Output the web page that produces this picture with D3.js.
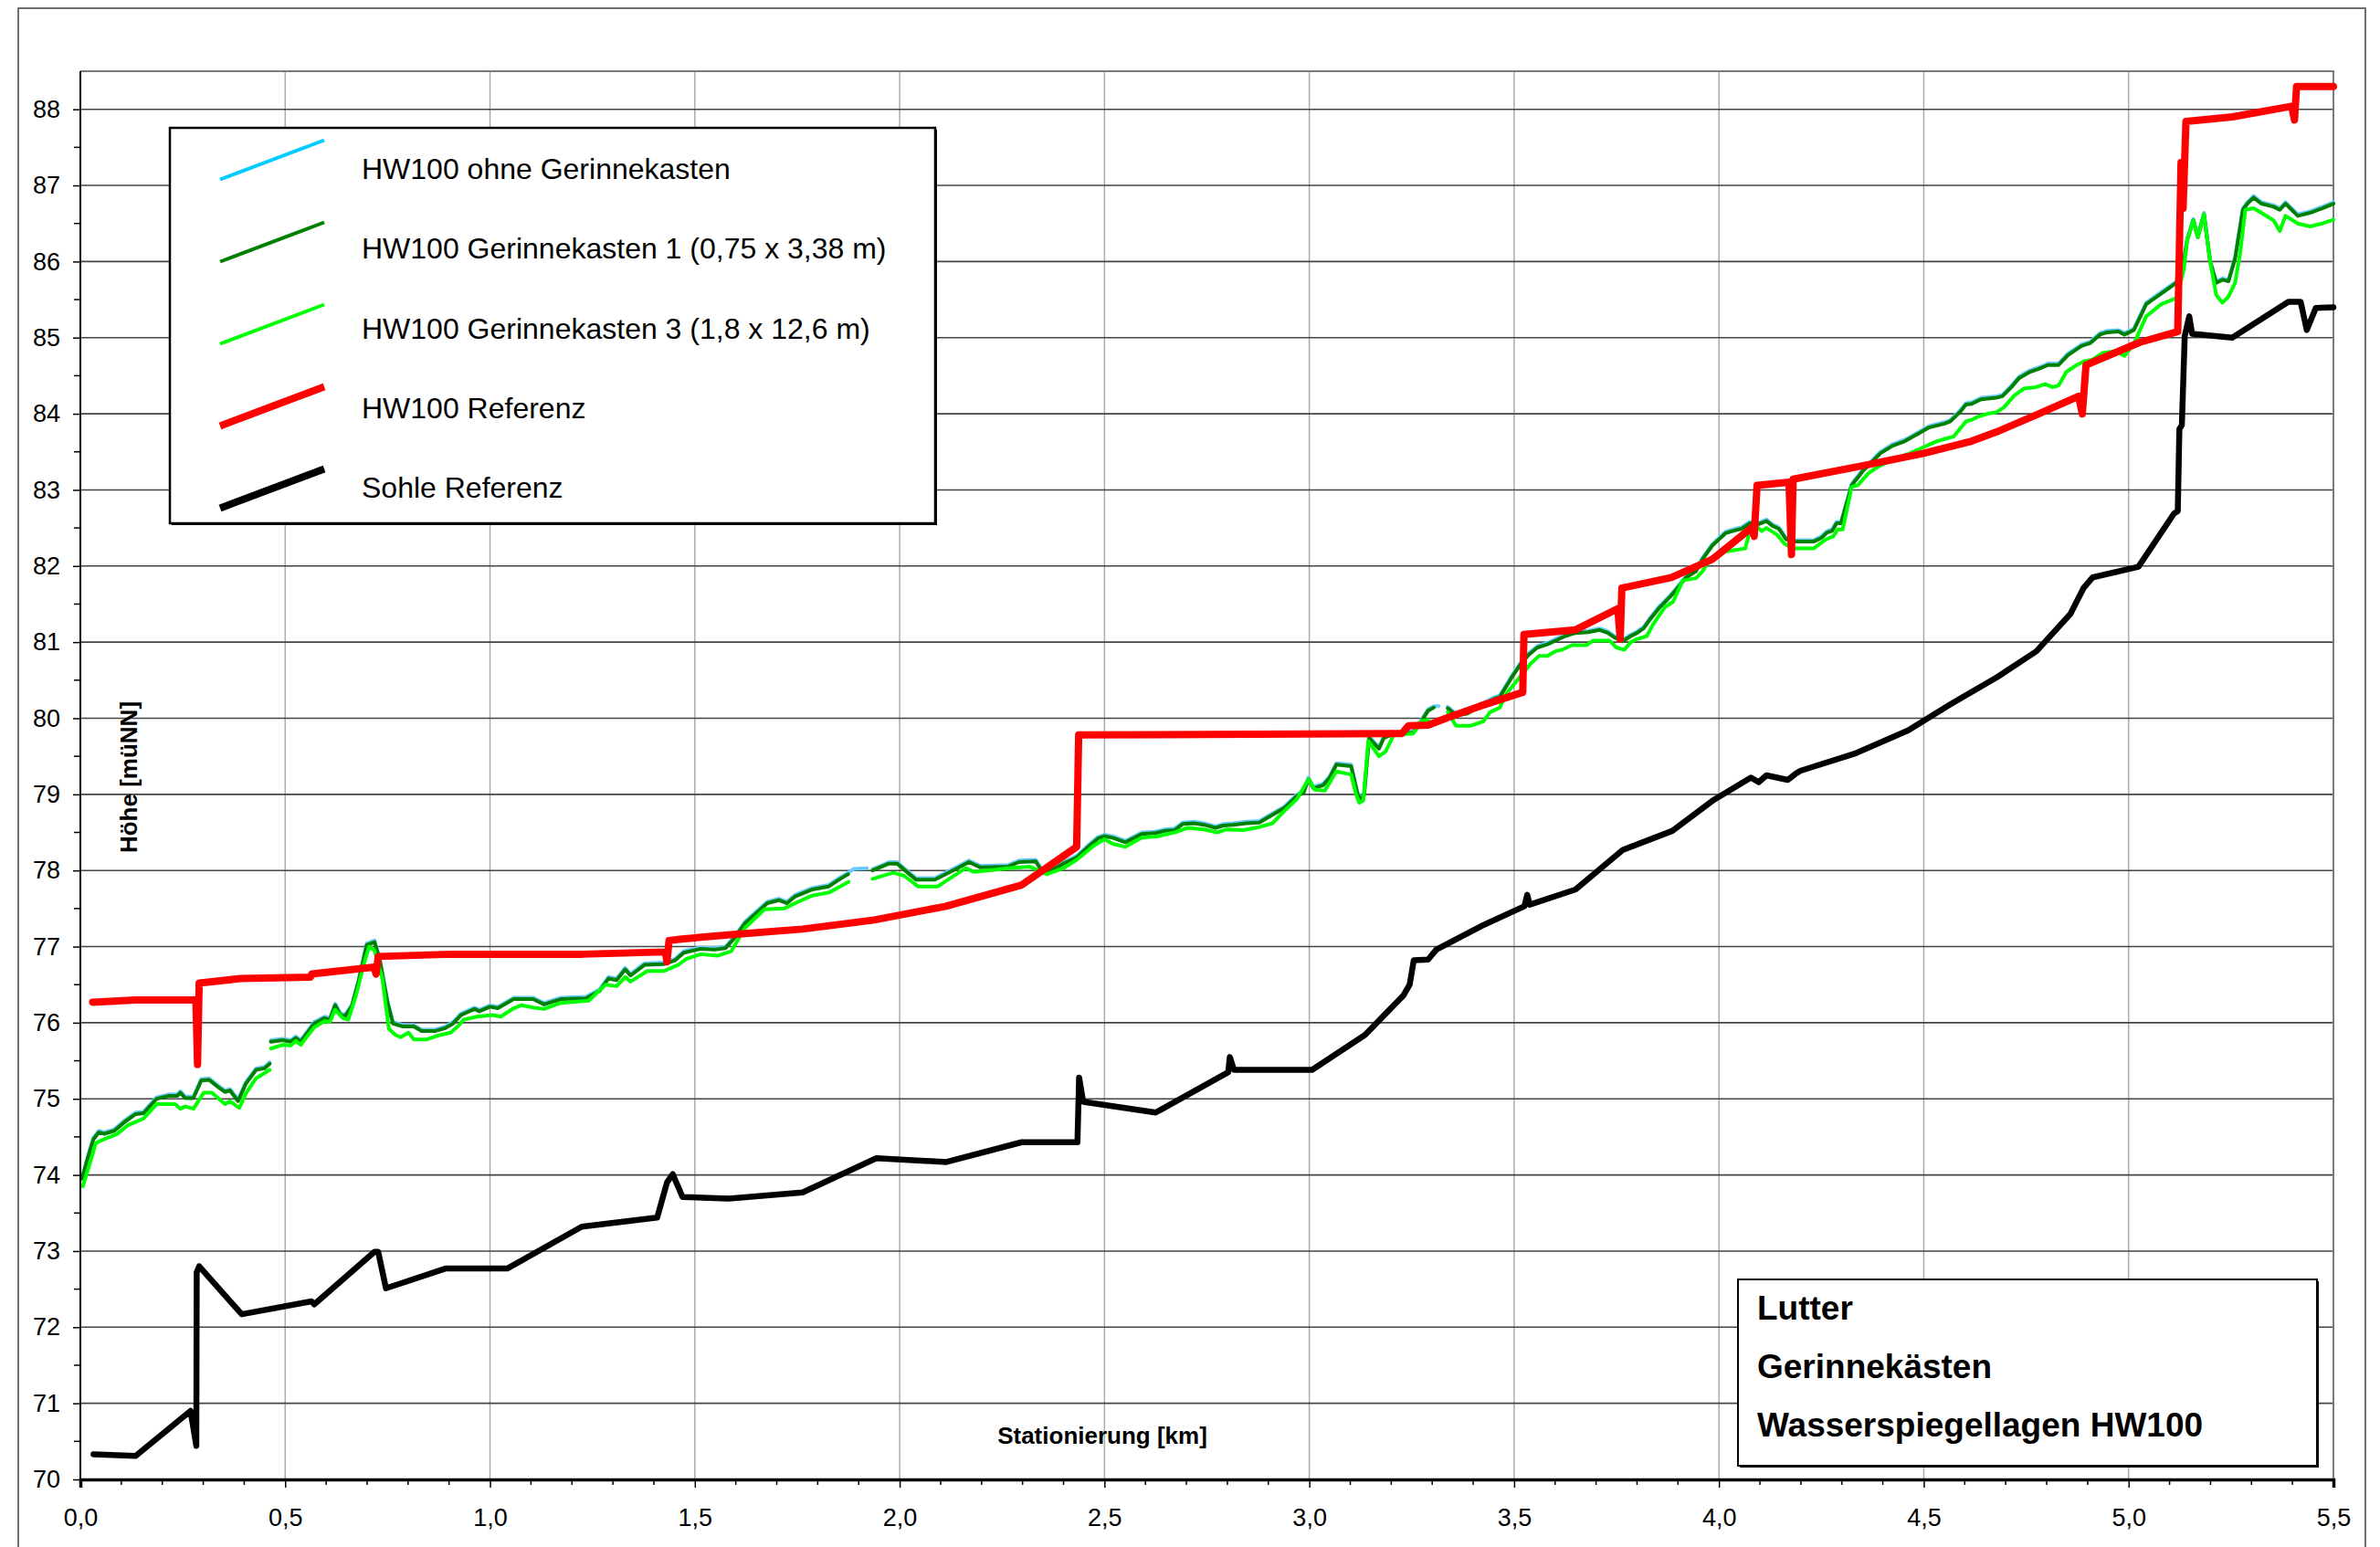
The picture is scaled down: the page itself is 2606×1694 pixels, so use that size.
<!DOCTYPE html>
<html>
<head>
<meta charset="utf-8">
<script src="https://cdn.jsdelivr.net/npm/d3@7"></script>
<style>
html,body{margin:0;padding:0;background:#fff;}
svg{display:block;}
text{font-family:"Liberation Sans",Arial,sans-serif;fill:#000;}
</style>
</head>
<body>
<script>
// ---------- data (station km, water level / bed level m ü. NN) ----------
const xTicks = [0,0.5,1,1.5,2,2.5,3,3.5,4,4.5,5,5.5];
const yTicks = [70,71,72,73,74,75,76,77,78,79,80,81,82,83,84,85,86,87,88];

const seriesNames = ["HW100 ohne Gerinnekasten","HW100 Gerinnekasten 1 (0,75 x 3,38 m)","HW100 Gerinnekasten 3 (1,8 x 12,6 m)","HW100 Referenz","Sohle Referenz"];

const hw100Ohne = [[0.004,73.97],[0.019,74.26],[0.032,74.49],[0.045,74.58],[0.058,74.56],[0.083,74.6],[0.109,74.72],[0.135,74.82],[0.154,74.83],[0.186,75.02],[0.218,75.06],[0.237,75.06],[0.244,75.1],[0.256,75.03],[0.276,75.03],[0.295,75.26],[0.314,75.27],[0.34,75.16],[0.353,75.11],[0.365,75.13],[0.385,74.99],[0.404,75.22],[0.429,75.4],[0.449,75.42],[0.462,75.48],null,
[0.465,75.77],[0.494,75.79],[0.513,75.77],[0.526,75.82],[0.538,75.77],[0.571,76.01],[0.596,76.08],[0.609,76.06],[0.622,76.25],[0.635,76.12],[0.647,76.11],[0.663,76.24],[0.679,76.56],[0.699,77.04],[0.718,77.08],[0.731,76.84],[0.75,76.28],[0.763,76.01],[0.788,75.97],[0.814,75.97],[0.833,75.91],[0.865,75.91],[0.891,75.95],[0.91,76.01],[0.929,76.12],[0.962,76.2],[0.974,76.17],[1.0,76.23],[1.019,76.21],[1.058,76.33],[1.105,76.33],[1.132,76.26],[1.173,76.33],[1.234,76.34],[1.268,76.44],[1.289,76.6],[1.309,76.58],[1.33,76.72],[1.343,76.64],[1.377,76.78],[1.425,76.79],[1.452,76.84],[1.473,76.94],[1.514,76.99],[1.548,76.98],[1.575,77.0],[1.595,77.12],[1.623,77.33],[1.677,77.59],[1.705,77.63],[1.725,77.59],[1.745,77.68],[1.786,77.77],[1.827,77.81],[1.855,77.91],[1.874,77.97],[1.888,78.02],[1.92,78.03],null,
[1.934,78.02],[1.974,78.11],[1.994,78.11],[2.011,78.03],[2.04,77.9],[2.086,77.9],[2.141,78.05],[2.169,78.13],[2.197,78.06],[2.264,78.07],[2.291,78.13],[2.332,78.14],[2.345,78.03],[2.37,78.02],[2.4,78.11],[2.432,78.19],[2.464,78.35],[2.484,78.44],[2.5,78.47],[2.52,78.45],[2.551,78.39],[2.591,78.5],[2.623,78.51],[2.647,78.54],[2.671,78.55],[2.691,78.63],[2.719,78.64],[2.743,78.62],[2.771,78.58],[2.79,78.61],[2.814,78.62],[2.846,78.64],[2.878,78.65],[2.91,78.75],[2.939,78.84],[2.97,79.0],[2.986,79.04],[2.998,79.22],[3.01,79.1],[3.034,79.14],[3.05,79.24],[3.066,79.41],[3.102,79.39],[3.118,79.02],[3.128,78.94],[3.134,79.02],[3.146,79.76],[3.17,79.62],[3.182,79.76],[3.198,79.8],[3.226,79.82],[3.254,79.83],[3.274,79.98],[3.29,80.12],[3.304,80.16],[3.316,80.16],null,
[3.338,80.15],[3.358,80.06],[3.385,80.08],[3.417,80.18],[3.449,80.27],[3.465,80.3],[3.481,80.44],[3.497,80.58],[3.517,80.74],[3.537,80.86],[3.557,80.95],[3.581,80.99],[3.601,81.04],[3.625,81.1],[3.649,81.14],[3.681,81.15],[3.709,81.18],[3.729,81.14],[3.745,81.08],[3.765,81.03],[3.785,81.1],[3.8,81.14],[3.816,81.2],[3.832,81.32],[3.856,81.48],[3.88,81.61],[3.896,81.71],[3.92,81.87],[3.944,81.95],[3.96,82.11],[3.984,82.29],[4.0,82.37],[4.016,82.45],[4.04,82.49],[4.056,82.51],[4.075,82.58],[4.097,82.57],[4.116,82.61],[4.13,82.55],[4.146,82.51],[4.164,82.37],[4.186,82.34],[4.231,82.34],[4.25,82.39],[4.264,82.46],[4.276,82.48],[4.287,82.58],[4.298,82.58],[4.324,83.08],[4.35,83.26],[4.365,83.34],[4.394,83.5],[4.424,83.6],[4.454,83.66],[4.484,83.75],[4.513,83.84],[4.551,83.89],[4.565,83.92],[4.588,84.04],[4.603,84.14],[4.617,84.15],[4.64,84.21],[4.677,84.23],[4.692,84.25],[4.714,84.37],[4.733,84.49],[4.759,84.57],[4.781,84.61],[4.803,84.66],[4.829,84.66],[4.852,84.79],[4.885,84.91],[4.907,84.95],[4.93,85.06],[4.948,85.09],[4.975,85.1],[4.99,85.06],[5.013,85.12],[5.043,85.46],[5.08,85.6],[5.117,85.74],[5.135,86.02],[5.143,86.3],[5.158,86.56],[5.169,86.34],[5.184,86.64],[5.199,86.02],[5.214,85.74],[5.229,85.78],[5.244,85.76],[5.26,86.06],[5.279,86.7],[5.29,86.78],[5.305,86.86],[5.324,86.78],[5.354,86.74],[5.369,86.7],[5.383,86.78],[5.413,86.62],[5.443,86.66],[5.473,86.72],[5.5,86.78]];

const hw100GK1 = [[0.004,73.95],[0.019,74.24],[0.032,74.47],[0.045,74.56],[0.058,74.54],[0.083,74.58],[0.109,74.7],[0.135,74.8],[0.154,74.81],[0.186,75.0],[0.218,75.04],[0.237,75.04],[0.244,75.08],[0.256,75.01],[0.276,75.01],[0.295,75.24],[0.314,75.25],[0.34,75.14],[0.353,75.09],[0.365,75.11],[0.385,74.97],[0.404,75.2],[0.429,75.38],[0.449,75.4],[0.462,75.46],null,
[0.465,75.75],[0.494,75.77],[0.513,75.75],[0.526,75.8],[0.538,75.75],[0.571,75.99],[0.596,76.06],[0.609,76.04],[0.622,76.23],[0.635,76.1],[0.647,76.09],[0.663,76.22],[0.679,76.54],[0.699,77.02],[0.718,77.06],[0.731,76.82],[0.75,76.26],[0.763,75.99],[0.788,75.95],[0.814,75.95],[0.833,75.89],[0.865,75.89],[0.891,75.93],[0.91,75.99],[0.929,76.1],[0.962,76.18],[0.974,76.15],[1.0,76.21],[1.019,76.19],[1.058,76.31],[1.105,76.31],[1.132,76.24],[1.173,76.31],[1.234,76.32],[1.268,76.42],[1.289,76.58],[1.309,76.56],[1.33,76.7],[1.343,76.62],[1.377,76.76],[1.425,76.77],[1.452,76.82],[1.473,76.92],[1.514,76.97],[1.548,76.96],[1.575,76.98],[1.595,77.1],[1.623,77.31],[1.677,77.57],[1.705,77.61],[1.725,77.57],[1.745,77.66],[1.786,77.75],[1.827,77.79],[1.855,77.89],[1.874,77.95],null,
[1.934,78.0],[1.974,78.09],[1.994,78.09],[2.011,78.01],[2.04,77.88],[2.086,77.88],[2.141,78.03],[2.169,78.11],[2.197,78.04],[2.264,78.05],[2.291,78.11],[2.332,78.12],[2.345,78.01],[2.37,78.0],[2.4,78.09],[2.432,78.17],[2.464,78.33],[2.484,78.42],[2.5,78.45],[2.52,78.43],[2.551,78.37],[2.591,78.48],[2.623,78.49],[2.647,78.52],[2.671,78.53],[2.691,78.61],[2.719,78.62],[2.743,78.6],[2.771,78.56],[2.79,78.59],[2.814,78.6],[2.846,78.62],[2.878,78.63],[2.91,78.73],[2.939,78.82],[2.97,78.98],[2.986,79.02],[2.998,79.2],[3.01,79.08],[3.034,79.12],[3.05,79.22],[3.066,79.39],[3.102,79.37],[3.118,79.0],[3.128,78.92],[3.134,79.0],[3.146,79.74],[3.17,79.6],[3.182,79.74],[3.198,79.78],[3.226,79.8],[3.254,79.81],[3.274,79.96],[3.29,80.1],[3.304,80.14],null,
[3.338,80.13],[3.358,80.04],[3.385,80.06],[3.417,80.16],[3.449,80.25],[3.465,80.28],[3.481,80.42],[3.497,80.56],[3.517,80.72],[3.537,80.84],[3.557,80.93],[3.581,80.97],[3.601,81.02],[3.625,81.08],[3.649,81.12],[3.681,81.13],[3.709,81.16],[3.729,81.12],[3.745,81.06],[3.765,81.01],[3.785,81.08],[3.8,81.12],[3.816,81.18],[3.832,81.3],[3.856,81.46],[3.88,81.59],[3.896,81.69],[3.92,81.85],[3.944,81.93],[3.96,82.09],[3.984,82.27],[4.0,82.35],[4.016,82.43],[4.04,82.47],[4.056,82.49],[4.075,82.56],[4.097,82.55],[4.116,82.59],[4.13,82.53],[4.146,82.49],[4.164,82.35],[4.186,82.32],[4.231,82.32],[4.25,82.37],[4.264,82.44],[4.276,82.46],[4.287,82.56],[4.298,82.56],[4.324,83.06],[4.35,83.24],[4.365,83.32],[4.394,83.48],[4.424,83.58],[4.454,83.64],[4.484,83.73],[4.513,83.82],[4.551,83.87],[4.565,83.9],[4.588,84.02],[4.603,84.12],[4.617,84.13],[4.64,84.19],[4.677,84.21],[4.692,84.23],[4.714,84.35],[4.733,84.47],[4.759,84.55],[4.781,84.59],[4.803,84.64],[4.829,84.64],[4.852,84.77],[4.885,84.89],[4.907,84.93],[4.93,85.04],[4.948,85.07],[4.975,85.08],[4.99,85.04],[5.013,85.1],[5.043,85.44],[5.08,85.58],[5.117,85.72],[5.135,86.0],[5.143,86.28],[5.158,86.54],[5.169,86.32],[5.184,86.62],[5.199,86.0],[5.214,85.72],[5.229,85.76],[5.244,85.74],[5.26,86.04],[5.279,86.68],[5.29,86.76],[5.305,86.84],[5.324,86.76],[5.354,86.72],[5.369,86.68],[5.383,86.76],[5.413,86.6],[5.443,86.64],[5.473,86.7],[5.5,86.76]];

const hw100GK3 = [[0.006,73.85],[0.019,74.08],[0.038,74.42],[0.058,74.47],[0.077,74.51],[0.09,74.54],[0.115,74.65],[0.154,74.74],[0.186,74.93],[0.231,74.93],[0.244,74.87],[0.256,74.9],[0.276,74.87],[0.301,75.08],[0.321,75.08],[0.353,74.93],[0.365,74.97],[0.388,74.88],[0.404,75.07],[0.429,75.27],[0.462,75.38],null,
[0.465,75.66],[0.494,75.71],[0.513,75.7],[0.526,75.76],[0.538,75.71],[0.571,75.94],[0.596,76.02],[0.609,76.01],[0.622,76.17],[0.641,76.06],[0.654,76.04],[0.673,76.36],[0.692,76.77],[0.705,77.0],[0.718,76.95],[0.737,76.59],[0.753,75.92],[0.769,75.84],[0.782,75.81],[0.801,75.87],[0.814,75.78],[0.846,75.78],[0.872,75.83],[0.904,75.87],[0.923,75.96],[0.936,76.04],[0.968,76.08],[1.006,76.1],[1.026,76.08],[1.058,76.19],[1.077,76.23],[1.105,76.2],[1.132,76.18],[1.173,76.26],[1.241,76.29],[1.282,76.5],[1.309,76.48],[1.33,76.6],[1.343,76.54],[1.384,76.68],[1.425,76.68],[1.459,76.76],[1.48,76.84],[1.514,76.9],[1.555,76.88],[1.589,76.94],[1.623,77.25],[1.67,77.49],[1.718,77.5],[1.745,77.57],[1.786,77.67],[1.827,77.71],[1.855,77.79],[1.875,77.85],null,
[1.934,77.89],[1.984,77.97],[2.011,77.93],[2.045,77.79],[2.093,77.79],[2.161,78.03],[2.182,77.98],[2.236,78.01],[2.264,78.03],[2.318,78.05],[2.359,77.95],[2.4,78.03],[2.432,78.14],[2.468,78.3],[2.484,78.36],[2.5,78.41],[2.52,78.35],[2.551,78.31],[2.591,78.43],[2.631,78.45],[2.671,78.5],[2.703,78.56],[2.743,78.54],[2.775,78.5],[2.799,78.54],[2.838,78.53],[2.878,78.57],[2.91,78.62],[2.939,78.78],[2.97,78.94],[2.998,79.2],[3.014,79.06],[3.038,79.05],[3.066,79.3],[3.102,79.26],[3.114,79.0],[3.122,78.89],[3.132,78.92],[3.144,79.7],[3.17,79.5],[3.186,79.56],[3.206,79.78],[3.254,79.8],[3.274,79.96],[3.29,79.98],null,
[3.338,80.08],[3.358,79.9],[3.393,79.9],[3.425,79.96],[3.441,80.08],[3.465,80.14],[3.481,80.32],[3.517,80.56],[3.541,80.72],[3.561,80.82],[3.581,80.82],[3.601,80.88],[3.617,80.9],[3.641,80.96],[3.677,80.96],[3.693,81.02],[3.733,81.02],[3.749,80.93],[3.769,80.9],[3.785,81.0],[3.8,81.04],[3.824,81.08],[3.84,81.24],[3.868,81.46],[3.888,81.53],[3.912,81.81],[3.944,81.84],[3.96,81.93],[3.976,82.07],[4.0,82.13],[4.016,82.19],[4.04,82.21],[4.064,82.23],[4.075,82.45],[4.09,82.53],[4.104,82.46],[4.116,82.5],[4.142,82.41],[4.16,82.29],[4.186,82.23],[4.231,82.23],[4.246,82.29],[4.261,82.35],[4.279,82.39],[4.29,82.48],[4.302,82.48],[4.324,83.04],[4.339,83.06],[4.365,83.22],[4.387,83.3],[4.409,83.36],[4.439,83.43],[4.461,83.47],[4.499,83.56],[4.528,83.63],[4.558,83.68],[4.573,83.7],[4.588,83.8],[4.603,83.9],[4.617,83.92],[4.632,83.96],[4.655,84.0],[4.677,84.02],[4.695,84.08],[4.721,84.24],[4.744,84.33],[4.774,84.35],[4.796,84.39],[4.814,84.35],[4.829,84.37],[4.848,84.55],[4.87,84.63],[4.892,84.69],[4.911,84.71],[4.937,84.8],[4.952,84.81],[4.969,84.82],[4.99,84.76],[5.013,84.92],[5.043,85.28],[5.08,85.44],[5.117,85.52],[5.135,85.9],[5.143,86.28],[5.158,86.54],[5.169,86.32],[5.184,86.62],[5.199,86.0],[5.214,85.56],[5.229,85.46],[5.244,85.54],[5.26,85.72],[5.272,86.1],[5.285,86.68],[5.305,86.7],[5.324,86.64],[5.354,86.54],[5.369,86.4],[5.383,86.6],[5.413,86.5],[5.443,86.46],[5.473,86.5],[5.5,86.55]];

const hw100Referenz = [[0.03,76.27],[0.135,76.3],[0.282,76.3],[0.286,75.45],[0.29,76.52],[0.391,76.58],[0.562,76.6],[0.565,76.64],[0.717,76.73],[0.722,76.64],[0.727,76.87],[0.904,76.9],[1.224,76.9],[1.428,76.93],[1.432,76.8],[1.437,77.08],[1.468,77.1],[1.595,77.16],[1.763,77.23],[1.938,77.35],[2.113,77.53],[2.298,77.81],[2.432,78.31],[2.437,79.78],[3.226,79.8],[3.242,79.9],[3.29,79.91],[3.338,80.01],[3.417,80.16],[3.521,80.34],[3.524,81.1],[3.649,81.16],[3.753,81.44],[3.759,81.04],[3.763,81.71],[3.884,81.85],[3.984,82.09],[4.079,82.5],[4.086,82.39],[4.093,83.06],[4.171,83.1],[4.177,82.15],[4.181,83.14],[4.335,83.3],[4.5,83.48],[4.617,83.64],[4.677,83.76],[4.781,84.0],[4.878,84.23],[4.887,84.0],[4.896,84.64],[5.028,84.94],[5.12,85.08],[5.128,87.3],[5.133,86.7],[5.14,87.84],[5.253,87.9],[5.398,88.04],[5.405,87.86],[5.41,88.3],[5.5,88.3]];

const sohleReferenz = [[0.032,70.33],[0.135,70.31],[0.269,70.9],[0.283,70.44],[0.284,72.72],[0.29,72.8],[0.394,72.17],[0.564,72.34],[0.571,72.3],[0.718,72.99],[0.727,72.99],[0.746,72.51],[0.891,72.77],[1.042,72.77],[1.224,73.32],[1.408,73.44],[1.432,73.9],[1.446,74.01],[1.47,73.71],[1.583,73.69],[1.763,73.77],[1.943,74.22],[2.114,74.17],[2.298,74.43],[2.434,74.43],[2.438,75.28],[2.448,74.96],[2.625,74.82],[2.802,75.35],[2.806,75.55],[2.816,75.38],[3.007,75.38],[3.136,75.84],[3.23,76.36],[3.245,76.5],[3.255,76.82],[3.29,76.83],[3.31,76.96],[3.42,77.27],[3.525,77.53],[3.532,77.68],[3.538,77.55],[3.65,77.75],[3.765,78.27],[3.886,78.52],[3.988,78.93],[4.078,79.22],[4.097,79.16],[4.116,79.25],[4.168,79.19],[4.187,79.27],[4.199,79.31],[4.334,79.54],[4.462,79.84],[4.564,80.18],[4.679,80.54],[4.775,80.88],[4.858,81.37],[4.89,81.71],[4.912,81.85],[5.024,81.99],[5.111,82.69],[5.12,82.72],[5.124,83.8],[5.13,83.85],[5.137,85.02],[5.148,85.28],[5.155,85.05],[5.253,85.0],[5.39,85.47],[5.42,85.47],[5.435,85.1],[5.457,85.39],[5.5,85.4]];

const infoLines = ["Lutter","Gerinnekästen","Wasserspiegellagen HW100"];

// ---------- drawing ----------
const W = 2606, H = 1694;
const svg = d3.select("body").append("svg").attr("width", W).attr("height", H);
svg.append("rect").attr("width", W).attr("height", H).attr("fill", "#fff");

// outer frame
svg.append("rect").attr("x", 20).attr("y", 9).attr("width", 2570).attr("height", 1710)
  .attr("fill", "none").attr("stroke", "#404040").attr("stroke-width", 1.5);

const x = d3.scaleLinear().domain([0, 5.5]).range([88, 2555]);
const y = d3.scaleLinear().domain([70, 88.5]).range([1620, 78]);

const de = d3.formatLocale({decimal: ",", thousands: ".", grouping: [3], currency: ["", " €"]});
const fmt1 = de.format(".1f");

// gridlines
const grid = svg.append("g");
grid.selectAll("line.v").data(xTicks.filter(d => d > 0 && d < 5.5)).join("line")
  .attr("x1", d => x(d)).attr("x2", d => x(d)).attr("y1", y(88.5)).attr("y2", y(70))
  .attr("stroke", "#ababab").attr("stroke-width", 1.5);
grid.selectAll("line.h").data(yTicks.filter(d => d > 70)).join("line")
  .attr("x1", x(0)).attr("x2", x(5.5)).attr("y1", d => y(d)).attr("y2", d => y(d))
  .attr("stroke", "#444").attr("stroke-width", 1.6);
// plot area border (top/right)
grid.append("path")
  .attr("d", `M${x(0)},${y(88.5)}H${x(5.5)}V${y(70)}`)
  .attr("fill", "none").attr("stroke", "#7a7a7a").attr("stroke-width", 2);

// series
const line = d3.line().defined(d => d !== null).x(d => x(d[0])).y(d => y(d[1]));
const series = [
  {data: hw100Ohne, color: "#66ccff", w: 4},
  {data: hw100GK1, color: "#008000", w: 4},
  {data: hw100GK3, color: "#00ff00", w: 4},
  {data: hw100Referenz, color: "#ff0000", w: 8},
  {data: sohleReferenz, color: "#000000", w: 6.5}
];
const lines = svg.append("g");
series.forEach(s => {
  lines.append("path").attr("d", line(s.data)).attr("fill", "none")
    .attr("stroke", s.color).attr("stroke-width", s.w)
    .attr("stroke-linejoin", "round").attr("stroke-linecap", "round");
});

// axes
const xAxis = d3.axisBottom(x).tickValues(xTicks).tickFormat(fmt1).tickSize(9).tickPadding(23);
const gx = svg.append("g").attr("transform", `translate(0,${y(70)})`).call(xAxis);
gx.select(".domain").attr("stroke", "#000").attr("stroke-width", 3.5);
gx.selectAll(".tick line").attr("stroke", "#000").attr("stroke-width", 1.5);
gx.selectAll(".tick text").attr("font-size", 27).attr("font-family", '"Liberation Sans",Arial,sans-serif');
// minor x ticks
const xMinor = d3.range(0, 5.5001, 0.1).filter(d => Math.abs(d * 2 - Math.round(d * 2)) > 1e-6);
svg.append("g").selectAll("line").data(xMinor).join("line")
  .attr("x1", d => x(d)).attr("x2", d => x(d)).attr("y1", y(70)).attr("y2", y(70) + 6)
  .attr("stroke", "#000").attr("stroke-width", 1.5);

const yAxis = d3.axisLeft(y).tickValues(yTicks).tickFormat(d3.format("d")).tickSize(8).tickPadding(14);
const gy = svg.append("g").attr("transform", `translate(${x(0)},0)`).call(yAxis);
gy.select(".domain").attr("stroke", "#000").attr("stroke-width", 2).attr("d", `M-0,${y(88.5)}V${y(70)}`);
gy.selectAll(".tick line").attr("stroke", "#000").attr("stroke-width", 1.5);
gy.selectAll(".tick text").attr("font-size", 27).attr("font-family", '"Liberation Sans",Arial,sans-serif');
const yMinor = d3.range(70.5, 88.5, 1);
svg.append("g").selectAll("line").data(yMinor).join("line")
  .attr("x1", x(0) - 7).attr("x2", x(0)).attr("y1", d => y(d)).attr("y2", d => y(d))
  .attr("stroke", "#000").attr("stroke-width", 1.5);

// axis titles
svg.append("text").attr("transform", "translate(141,851) rotate(-90)")
  .attr("text-anchor", "middle").attr("dy", "0.35em")
  .attr("font-size", 26).attr("font-weight", "bold").text("Höhe [müNN]");
svg.append("text").attr("x", 1207).attr("y", 1572).attr("dy", "0.35em")
  .attr("text-anchor", "middle").attr("font-size", 26).attr("font-weight", "bold").text("Stationierung [km]");

// legend
const lg = svg.append("g");
lg.append("rect").attr("x", 188).attr("y", 142).attr("width", 838).attr("height", 433).attr("fill", "#000");
lg.append("rect").attr("x", 186).attr("y", 140).attr("width", 838).attr("height", 433)
  .attr("fill", "#fff").attr("stroke", "#000").attr("stroke-width", 2.5);
const legW = [4, 4, 4, 8, 8];
const legC = ["#00ccff", "#008000", "#00ff00", "#ff0000", "#000000"];
series.forEach((s, i) => {
  const my = 175 + 90 * i;
  lg.append("line").attr("x1", 241).attr("y1", my + 21.5).attr("x2", 355).attr("y2", my - 21.5)
    .attr("stroke", legC[i]).attr("stroke-width", legW[i]);
  lg.append("text").attr("x", 396).attr("y", 185 + 87.2 * i).attr("dy", "0.35em")
    .attr("font-size", 32).text(seriesNames[i]);
});

// info box
const ib = svg.append("g");
ib.append("rect").attr("x", 1905).attr("y", 1403).attr("width", 634).attr("height", 204).attr("fill", "#000");
ib.append("rect").attr("x", 1903).attr("y", 1401).attr("width", 634).attr("height", 204)
  .attr("fill", "#fff").attr("stroke", "#000").attr("stroke-width", 2);
infoLines.forEach((t, i) => {
  ib.append("text").attr("x", 1924).attr("y", 1445 + 64 * i)
    .attr("font-size", 37).attr("font-weight", "bold").text(t);
});
</script>
</body>
</html>
